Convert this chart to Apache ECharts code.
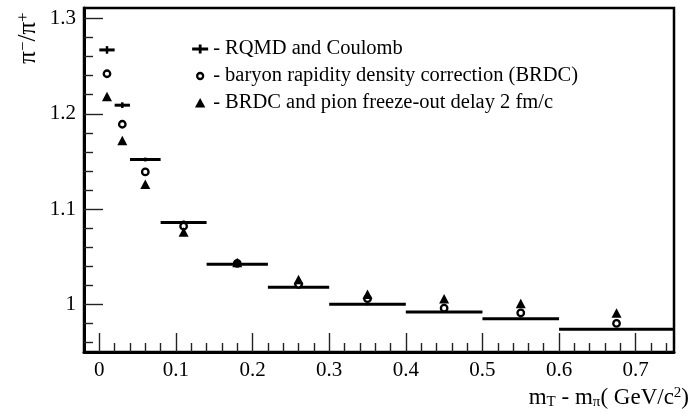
<!DOCTYPE html>
<html>
<head>
<meta charset="utf-8">
<script src="https://cdn.jsdelivr.net/npm/echarts@6/dist/echarts.min.js"></script>
<style>
html,body{margin:0;padding:0;background:#fff;}
#chart{width:693px;height:414px;}
</style>
</head>
<body>
<div id="chart"></div>
<script>
// ---- data ----
const seriesNames = [
  'RQMD and Coulomb',
  'baryon rapidity density correction (BRDC)',
  'BRDC and pion freeze-out delay 2 fm/c'
];
const binCenter = [0.01, 0.03, 0.06, 0.11, 0.18, 0.26, 0.35, 0.45, 0.55, 0.675];
const binLow    = [0.00, 0.02, 0.04, 0.08, 0.14, 0.22, 0.30, 0.40, 0.50, 0.60];
const binHigh   = [0.02, 0.04, 0.08, 0.14, 0.22, 0.30, 0.40, 0.50, 0.60, 0.75];
const rqmdCoulomb = [1.267, 1.209, 1.152, 1.086, 1.042, 1.018, 1.000, 0.992, 0.985, 0.974];
const rqmdErr     = [0.004, 0.003, 0.002, 0.002, 0.001, 0.001, 0.001, 0.001, 0.001, 0.001];
const brdc        = [1.242, 1.189, 1.139, 1.082, 1.043, 1.021, 1.006, 0.996, 0.991, 0.980];
const brdcDelay   = [1.218, 1.172, 1.126, 1.076, 1.044, 1.026, 1.0105, 1.006, 1.001, 0.991];

const xMajorTicks = [0, 0.1, 0.2, 0.3, 0.4, 0.5, 0.6, 0.7];
const yMajorTicks = [1, 1.1, 1.2, 1.3];
const xRange = [-0.02, 0.75];
const yRange = [0.95, 1.311];

// minor ticks every 0.02 (not at majors)
const xMinorTicks = [];
for (let i = 1; i <= 37; i++) { if (i % 5 !== 0) xMinorTicks.push(Math.round(i * 2) / 100); }
const yMinorTicks = [];
for (let i = 48; i <= 65; i++) { if (i % 5 !== 0) yMinorTicks.push(Math.round(i * 2) / 100); }

const FONT = "'Liberation Serif', 'DejaVu Serif', serif";
const INK = '#000';

const chart = echarts.init(document.getElementById('chart'));

const rqmdData = binCenter.map((x, i) => [x, rqmdCoulomb[i], binLow[i], binHigh[i], rqmdErr[i]]);
const brdcData = binCenter.map((x, i) => [x, brdc[i]]);
const delayData = binCenter.map((x, i) => [x, brdcDelay[i]]);

const noSplit = { show: false };

const option = {
  animation: false,
  backgroundColor: '#fff',
  grid: {
    left: 84, right: 19, top: 8, bottom: 62,
    show: true, borderColor: INK, borderWidth: 2.5, backgroundColor: 'transparent'
  },
  xAxis: [
    {
      type: 'value', min: xRange[0], max: xRange[1], position: 'bottom',
      axisLine: { show: true, onZero: false, lineStyle: { color: INK, width: 3 } },
      axisTick: { show: true, inside: true, length: 19, customValues: xMajorTicks, lineStyle: { color: '#222', width: 1.4 } },
      axisLabel: { show: true, customValues: xMajorTicks, margin: 8, fontFamily: FONT, fontSize: 21, color: INK },
      splitLine: noSplit
    },
    {
      type: 'value', min: xRange[0], max: xRange[1], position: 'bottom',
      axisLine: { show: false, onZero: false },
      axisTick: { show: true, inside: true, length: 9, customValues: xMinorTicks, lineStyle: { color: '#222', width: 1.4 } },
      axisLabel: { show: false },
      splitLine: noSplit
    }
  ],
  yAxis: [
    {
      type: 'value', min: yRange[0], max: yRange[1], position: 'left',
      axisLine: { show: true, onZero: false, lineStyle: { color: INK, width: 3 } },
      axisTick: { show: true, inside: true, length: 19, customValues: yMajorTicks, lineStyle: { color: '#222', width: 1.4 } },
      axisLabel: { show: true, customValues: yMajorTicks, margin: 8, fontFamily: FONT, fontSize: 21, color: INK },
      splitLine: noSplit
    },
    {
      type: 'value', min: yRange[0], max: yRange[1], position: 'left',
      axisLine: { show: false, onZero: false },
      axisTick: { show: true, inside: true, length: 9, customValues: yMinorTicks, lineStyle: { color: '#222', width: 1.4 } },
      axisLabel: { show: false },
      splitLine: noSplit
    }
  ],
  legend: {
    orient: 'vertical', left: 186, top: 33, padding: 5,
    itemWidth: 16, itemHeight: 10, itemGap: 5,
    selectedMode: false,
    formatter: n => '- ' + n,
    textStyle: { fontFamily: FONT, fontSize: 20.5, color: INK, lineHeight: 22 },
    data: [
      { name: seriesNames[0], icon: 'path://M0,0 M16,10 M0,3.6 H16 V6.4 H0 Z M6.6,0.5 H9.4 V9.5 H6.6 Z',
        itemStyle: { color: INK, borderWidth: 0 } },
      { name: seriesNames[1], icon: 'path://M0,0 M16,10 M11,5 A3,3 0 1,1 5,5 A3,3 0 1,1 11,5 Z',
        itemStyle: { color: '#fff', borderColor: INK, borderWidth: 2.3 } },
      { name: seriesNames[2], icon: 'path://M0,0 M16,10 M8,0 L13.2,9.6 L2.8,9.6 Z',
        itemStyle: { color: INK, borderWidth: 0 } }
    ]
  },
  series: [
    {
      name: seriesNames[0], type: 'custom', xAxisIndex: 0, yAxisIndex: 0,
      data: rqmdData, encode: { x: 0, y: 1 },
      itemStyle: { color: INK },
      renderItem: function (params, api) {
        const xc = api.value(0), y = api.value(1), lo = api.value(2), hi = api.value(3), e = api.value(4);
        const pL = api.coord([lo, y]);
        const pR = api.coord([hi, y]);
        const pT = api.coord([xc, y + e]);
        const pB = api.coord([xc, y - e]);
        return {
          type: 'group',
          children: [
            { type: 'line', shape: { x1: pL[0], y1: pL[1], x2: pR[0], y2: pR[1] }, style: { stroke: INK, lineWidth: 3 } },
            { type: 'line', shape: { x1: pT[0], y1: pT[1], x2: pB[0], y2: pB[1] }, style: { stroke: INK, lineWidth: 2.5 } }
          ]
        };
      }
    },
    {
      name: seriesNames[1], type: 'scatter', xAxisIndex: 0, yAxisIndex: 0,
      data: brdcData, symbol: 'circle', symbolSize: 6.5,
      itemStyle: { color: '#fff', borderColor: INK, borderWidth: 2.3, opacity: 1 }
    },
    {
      name: seriesNames[2], type: 'scatter', xAxisIndex: 0, yAxisIndex: 0,
      data: delayData, symbol: 'triangle', symbolSize: [10, 9.5],
      itemStyle: { color: INK, opacity: 1 }
    }
  ],
  graphic: [
    {
      type: 'text', x: 28, y: 38, rotation: Math.PI / 2,
      style: {
        text: '{a|π}{s|−}{a|/π}{s|+}',
        align: 'center', verticalAlign: 'middle',
        fill: INK,
        rich: {
          a: { fontFamily: FONT, fontSize: 25, lineHeight: 26, fill: INK },
          s: { fontFamily: FONT, fontSize: 17, lineHeight: 13, verticalAlign: 'top', fill: INK }
        }
      }
    },
    {
      type: 'text', right: 4, top: 386,
      style: {
        text: '{a|m}{b|T}{a| - m}{b|π}{a|( GeV/c}{s|2}{a|)}',
        fill: INK,
        rich: {
          a: { fontFamily: FONT, fontSize: 23, lineHeight: 24, fill: INK },
          b: { fontFamily: FONT, fontSize: 15, lineHeight: 12, verticalAlign: 'bottom', fill: INK },
          s: { fontFamily: FONT, fontSize: 15, lineHeight: 12, verticalAlign: 'top', fill: INK }
        }
      }
    }
  ]
};

chart.setOption(option);
</script>
</body>
</html>
